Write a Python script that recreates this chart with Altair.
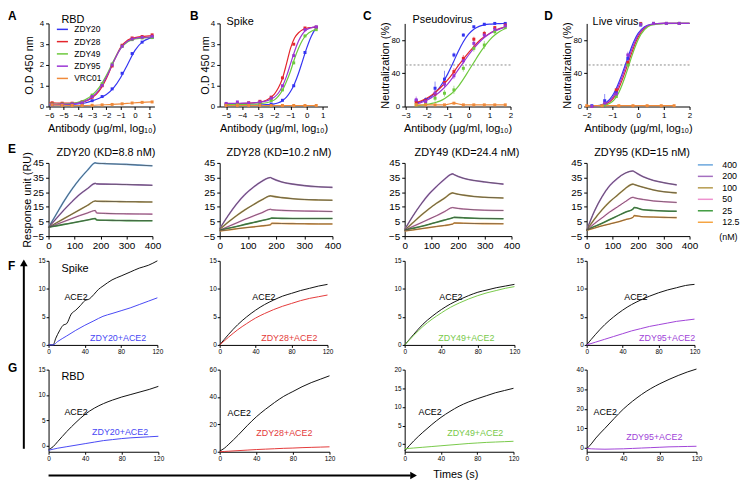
import altair as alt
import pandas as pd

FONT = "Liberation Sans"
ONE = pd.DataFrame({"k": [0]})

AB_NAMES = ["ZDY20", "ZDY28", "ZDY49", "ZDY95", "VRC01"]
AB_COLORS = ["#3434f2", "#e4252b", "#6dc93d", "#9a34d4", "#f08a3a"]

# ---------------- A: RBD ELISA ----------------
A_X = [-6, -5.5, -5, -4.5, -4, -3.5, -3, -2.5, -2, -1.5, -1, -0.5, 0, 0.5, 1, 1.3]
A_ZDY20 = [0.08, 0.08, 0.09, 0.10, 0.12, 0.17, 0.27, 0.40, 0.58, 0.90, 1.40, 2.05, 2.70, 3.10, 3.28, 3.33]
A_ZDY28 = [0.18, 0.17, 0.16, 0.16, 0.18, 0.25, 0.42, 0.75, 1.35, 2.15, 2.85, 3.20, 3.32, 3.37, 3.40, 3.42]
A_ZDY49 = [0.12, 0.12, 0.12, 0.14, 0.20, 0.32, 0.55, 0.92, 1.50, 2.20, 2.80, 3.12, 3.25, 3.30, 3.32, 3.33]
A_ZDY95 = [0.10, 0.10, 0.10, 0.12, 0.16, 0.26, 0.46, 0.82, 1.42, 2.15, 2.80, 3.15, 3.28, 3.32, 3.34, 3.35]
A_PX = [-5.8, -5.1, -4.4, -3.7, -3.0, -2.3, -1.6, -0.9, -0.2, 0.5, 1.2]
A_P20 = [0.08, 0.09, 0.10, 0.13, 0.28, 0.48, 0.85, 1.60, 2.55, 3.10, 3.32]
A_P28 = [0.18, 0.16, 0.16, 0.22, 0.45, 1.00, 1.95, 2.95, 3.30, 3.37, 3.45]
A_P49 = [0.12, 0.12, 0.13, 0.22, 0.55, 1.10, 2.05, 2.90, 3.22, 3.30, 3.32]
A_P95 = [0.10, 0.10, 0.12, 0.18, 0.48, 1.02, 2.00, 2.90, 3.25, 3.33, 3.38]
A_P01 = [0.08, 0.06, 0.05, 0.05, 0.06, 0.08, 0.10, 0.13, 0.17, 0.20, 0.22]

# ---------------- B: Spike ELISA ----------------
B_X = [-5, -4.5, -4, -3.5, -3, -2.5, -2, -1.75, -1.5, -1.25, -1, -0.75, -0.5, -0.25, 0, 0.3, 0.6]
B_ZDY20 = [0.05, 0.05, 0.05, 0.06, 0.07, 0.09, 0.13, 0.18, 0.28, 0.45, 0.72, 1.10, 1.60, 2.20, 2.80, 3.40, 3.80]
B_ZDY28 = [0.12, 0.13, 0.14, 0.16, 0.20, 0.30, 0.60, 0.90, 1.35, 2.05, 2.80, 3.30, 3.55, 3.70, 3.77, 3.80, 3.82]
B_ZDY49 = [0.10, 0.10, 0.10, 0.11, 0.13, 0.18, 0.32, 0.50, 0.78, 1.20, 1.70, 2.30, 2.80, 3.20, 3.45, 3.62, 3.72]
B_ZDY95 = [0.15, 0.15, 0.16, 0.17, 0.20, 0.27, 0.45, 0.65, 0.98, 1.45, 2.05, 2.65, 3.15, 3.50, 3.70, 3.80, 3.83]
B_PX = [-5, -4.3, -3.6, -2.9, -2.2, -1.5, -0.8, -0.1, 0.6]
B_P20 = [0.05, 0.05, 0.06, 0.07, 0.12, 0.30, 1.00, 2.60, 3.82]
B_P28 = [0.12, 0.15, 0.18, 0.25, 0.45, 1.38, 3.00, 3.78, 3.82]
B_P49 = [0.10, 0.10, 0.12, 0.15, 0.30, 0.80, 2.10, 3.40, 3.70]
B_P95 = [0.15, 0.22, 0.17, 0.22, 0.40, 1.00, 2.45, 3.70, 3.83]
B_P01 = [0.05, 0.05, 0.05, 0.05, 0.05, 0.05, 0.05, 0.05, 0.05]

# ---------------- C: Pseudovirus ----------------
C_X = [-2.5, -2.25, -2, -1.75, -1.5, -1.25, -1, -0.75, -0.5, -0.25, 0, 0.25, 0.5, 0.75, 1, 1.25, 1.5, 1.75]
C_ZDY20 = [4, 6, 9, 13, 19, 28, 39, 52, 66, 78, 87, 93, 96.5, 98.3, 99.2, 99.6, 99.8, 100]
C_ZDY28 = [5, 7, 10, 14, 19, 25, 32, 40, 49, 57, 65, 72, 79, 84, 88, 91.5, 94, 96]
C_ZDY49 = [1, 1.5, 2.5, 3.7, 5.5, 8, 12, 17, 24, 33, 43, 53, 63, 72, 80, 86, 90.5, 94]
C_ZDY95 = [3, 5, 7.5, 11, 15, 20.5, 27, 35, 44, 53, 62, 70, 77, 83, 87.5, 91, 93.5, 95.5]
C_PX = [-2.5, -2.05, -1.6, -1.15, -0.7, -0.25, 0.25, 0.75, 1.25, 1.75]
C_P20 = [7, 8, 22, 33, 62, 86, 96, 99, 100, 100]
C_P28 = [5, 7, 15, 29, 42, 58, 81, 88, 95, 98]
C_P49 = [2, 4, 10, 16, 20, 46, 70, 74, 90, 95]
C_P95 = [8, 6, 16, 27, 37, 55, 76, 86, 93, 97]
C_P01 = [2, 2, 2, 2, 4, 2, 2, 2, 2, 2]
C_E20 = [3, 3, 8, 10, 3, 2, 1, 1, 0, 0]
C_E28 = [2, 3, 4, 4, 4, 4, 3, 3, 2, 2]
C_E49 = [1, 2, 4, 4, 5, 4, 4, 5, 3, 2]
C_E95 = [4, 3, 5, 5, 4, 4, 4, 3, 2, 2]

# ---------------- D: Live virus ----------------
D_X = [-1.8, -1.5, -1.25, -1, -0.875, -0.75, -0.625, -0.5, -0.375, -0.25, -0.125, 0, 0.25, 0.5, 1, 2]
D_ZDY20 = [0.3, 1.5, 4.5, 13, 20, 29, 39, 50, 61, 72, 81, 88, 96, 99, 100, 100]
D_ZDY28 = [0.1, 0.7, 2.7, 8.5, 14, 22, 31.5, 42, 53.5, 64.5, 75, 83.5, 94, 98.4, 100, 100]
D_ZDY49 = [0.05, 0.4, 1.8, 6, 10.5, 17, 26, 36.5, 48, 60, 71, 80.5, 92.5, 98, 99.8, 100]
D_ZDY95 = [0.2, 1, 3.5, 10.5, 17, 25.5, 35.5, 46.5, 57.5, 68.5, 78, 86, 95, 98.7, 100, 100]
D_PX = [-1.8, -1.3, -0.85, -0.4, 0.1, 0.6, 1.1, 1.6]
D_P20 = [1, 7, 17, 58, 98, 100, 100, 100]
D_P28 = [0, 3, 20, 53, 100, 100, 100, 100]
D_P49 = [0, 2, 12, 50, 99, 100, 100, 100]
D_P95 = [0, 4, 15, 62, 99, 100, 100, 100]
D_E20 = [0, 8, 3, 6, 1, 0, 0, 0]
D_E95 = [0, 2, 3, 4, 1, 0, 0, 0]
D_P01X = [-2, -1.4, -0.75, -0.2, 0.35, 0.9, 1.4]
D_P01 = [1, 1, 1, 1, 1, 1, 1]

# ---------------- E: SPR sensorgrams ----------------
E_CONC = ["400", "200", "100", "50", "25", "12.5"]
E_COLORS = ["#6aa6dd", "#a46fc0", "#b59a4c", "#ee92cf", "#3e9b3e", "#f5a442"]
E_TITLES = ["ZDY20 (KD=8.8 nM)", "ZDY28 (KD=10.2 nM)", "ZDY49 (KD=24.4 nM)", "ZDY95 (KD=15 nM)"]
E1_T = [0, 30, 60, 90, 120, 150, 180, 185, 220, 260, 300, 350, 400]
E1 = {
    "400": [1, 10, 19, 27, 34, 40, 45, 44.8, 44.5, 44.2, 44, 43.5, 43],
    "200": [1, 7, 13, 18.5, 23.5, 27.5, 31, 30.7, 30.5, 30.4, 30.2, 30, 29.7],
    "100": [1, 4, 7, 10, 13, 16, 19, 18.8, 18.7, 18.6, 18.5, 18.4, 18.3],
    "50": [1, 3, 5, 7, 9, 10.8, 12.5, 10.8, 10.5, 10.3, 10.2, 10.1, 10],
    "25": [1, 2, 3, 4, 5, 6, 7, 6, 5.8, 5.7, 5.6, 5.5, 5.5],
}
E2_T = [0, 30, 60, 90, 120, 150, 180, 185, 220, 260, 300, 350, 400]
E2 = {
    "200": [0, 9, 17, 23.5, 28.5, 32.5, 35, 34.5, 32, 30.5, 29.5, 28.7, 28.3],
    "100": [-0.5, 4.5, 9, 13, 16.5, 19.8, 22.5, 22.3, 21.3, 20.5, 20, 19.7, 19.5],
    "50": [-1, 1.5, 4, 6.5, 8.8, 11, 13.3, 13, 12.6, 12.3, 12.1, 12, 11.8],
    "25": [-1, 0.3, 1.6, 3, 4.3, 5.6, 7, 7.3, 7.1, 7, 7, 7, 7],
    "12.5": [-1.5, -0.8, 0, 0.7, 1.3, 2, 2.7, 3.8, 3.6, 3.5, 3.4, 3.3, 3.3],
}
E3_T = [0, 30, 60, 90, 120, 150, 180, 185, 220, 260, 300, 370]
E3 = {
    "200": [-0.5, 8.5, 16.5, 23.5, 29, 34, 37.5, 37, 34.5, 33, 32, 30.5],
    "100": [-1, 4, 9, 13.5, 17.5, 21, 24.5, 24.2, 23, 22, 21.5, 21],
    "50": [-1, 1.5, 4, 6.5, 9, 11.8, 14.5, 14.3, 13.5, 13, 12.7, 12.5],
    "25": [-1, 0.3, 1.5, 3, 4.5, 6, 7.5, 7.8, 7.5, 7.2, 7, 6.9],
    "12.5": [-1.5, -0.8, 0, 0.8, 1.6, 2.3, 3.2, 4, 3.8, 3.6, 3.5, 3.4],
}
E4_T = [0, 30, 60, 90, 120, 150, 180, 185, 220, 260, 300, 350]
E4 = {
    "200": [-1, 12, 22, 29.5, 34.5, 38, 39.5, 39, 35.5, 33, 31.5, 30],
    "100": [-1, 6.5, 13, 18.5, 23, 27.5, 30.5, 30.2, 28.3, 26.5, 25.3, 24.5],
    "50": [-1, 3.5, 7.5, 11.5, 15, 18.5, 21.5, 21.2, 20, 19, 18.5, 18],
    "25": [-1, 1.5, 3.8, 6.3, 8.8, 11.3, 13.5, 14.5, 13, 12.5, 12.2, 12],
    "12.5": [-1, 0.5, 2, 3.3, 4.6, 6.2, 7.8, 9, 8.2, 8, 7.8, 7.6],
}

# ---------------- F / G: competition ----------------
K_T = [0, 10, 20, 30, 40, 50, 60, 70, 80, 90, 100, 110, 120]
F1_ACE2_T = [0, 5, 8, 12, 16, 20, 25, 30, 35, 40, 45, 50, 55, 60, 70, 80, 90, 100, 110, 120]
F1_ACE2 = [0, 0, 1.2, 2.5, 3.5, 3.8, 5.5, 6.2, 7, 7.9, 8.2, 9, 9.9, 10.5, 11.6, 12.3, 13, 13.7, 14.2, 15]
F1_AB_T = [0, 5, 10, 20, 30, 40, 50, 60, 70, 80, 90, 100, 110, 120]
F1_AB = [0, 0, 0.6, 1.6, 2.6, 3.5, 4.3, 5.1, 5.6, 6.1, 6.6, 7.2, 7.8, 8.4]
F2_ACE2 = [0, 1.9, 3.6, 5.0, 6.2, 7.2, 8.0, 8.7, 9.2, 9.7, 10.1, 10.5, 10.8]
F2_AB = [0, 1.4, 2.7, 3.8, 4.8, 5.6, 6.3, 6.9, 7.4, 7.9, 8.3, 8.6, 8.9]
F3_ACE2 = [0, 1.9, 3.7, 5.1, 6.3, 7.3, 8.1, 8.8, 9.4, 9.8, 10.2, 10.5, 10.8]
F3_AB = [0, 1.7, 3.3, 4.6, 5.7, 6.7, 7.5, 8.2, 8.8, 9.3, 9.7, 10.1, 10.4]
F4_ACE2 = [0, 1.9, 3.6, 5.0, 6.2, 7.2, 8.0, 8.7, 9.3, 9.8, 10.2, 10.6, 10.8]
F4_AB = [0, 0.5, 1.0, 1.5, 2.0, 2.5, 2.9, 3.3, 3.6, 3.9, 4.2, 4.4, 4.6]

G_T = [0, 5, 10, 20, 30, 40, 50, 60, 70, 80, 90, 100, 110, 120]
G1_ACE2 = [-0.8, -0.2, 0.8, 2.8, 4.6, 6.2, 7.4, 8.3, 9.0, 9.6, 10.1, 10.6, 11.1, 11.7]
G1_AB = [-0.9, -0.7, -0.5, -0.2, 0.1, 0.4, 0.7, 1.0, 1.2, 1.4, 1.55, 1.65, 1.75, 1.85]
G2_ACE2 = [0.5, 2.5, 5.5, 12, 19, 25.5, 31, 36, 40.5, 44, 47.5, 50.5, 53, 55.5]
G2_AB = [0, 0.2, 0.4, 0.8, 1.2, 1.6, 1.9, 2.2, 2.5, 2.7, 3.0, 3.2, 3.4, 3.6]
G3_ACE2 = [-1.8, -0.4, 0.9, 3.2, 5.3, 7.2, 8.8, 10.2, 11.3, 12.2, 13.0, 13.8, 14.4, 15.0]
G3_AB = [-1.2, -1.1, -1.0, -0.8, -0.6, -0.4, -0.2, 0, 0.2, 0.35, 0.5, 0.6, 0.7, 0.8]
G4_ACE2 = [-0.5, 2, 5, 10, 15, 19.8, 23.8, 27.3, 30.3, 32.8, 35, 37, 38.8, 40.3]
G4_AB = [-0.3, -0.5, -0.6, -0.7, -0.6, -0.5, -0.3, -0.1, 0.1, 0.3, 0.5, 0.6, 0.7, 0.8]

K_COLORS = {"ACE2": "#111111", "ZDY20": "#4848f4", "ZDY28": "#e43a3a", "ZDY49": "#78c94a", "ZDY95": "#a043d8"}


def long_df(d):
    rows = []
    for name, vals in d.items():
        xs, ys = vals[0], vals[1]
        es = vals[2] if len(vals) > 2 else [0] * len(xs)
        for x, y, e in zip(xs, ys, es):
            rows.append({"x": x, "y": y, "s": name, "lo": y - e, "hi": y + e})
    return pd.DataFrame(rows)


def label(text, x, y, size=11, color="black", weight="normal", baseline="middle", align="left"):
    return alt.Chart(ONE).mark_text(
        text=text, align=align, baseline=baseline, fontSize=size, font=FONT,
        color=color, fontWeight=weight
    ).encode(x=alt.value(x), y=alt.value(y))


def spacer(w, h):
    return alt.Chart(ONE).mark_point(opacity=0).encode(
        x=alt.value(0), y=alt.value(0)).properties(width=w, height=h)


def dose_panel(curves, points, errs, xdom, xticks, ydom, yticks, ytitle, ytp, width,
               texts, legend=None, dotted=False):
    X = alt.X("x:Q", scale=alt.Scale(domain=xdom, nice=False, zero=False),
              axis=alt.Axis(values=xticks, title="Antibody (μg/ml, log₁₀)", titleFontSize=11,
                            labelFontSize=8, titlePadding=3, format="d"))
    Y = alt.Y("y:Q", scale=alt.Scale(domain=ydom, nice=False, zero=False),
              axis=alt.Axis(values=yticks, title=ytitle, titleFontSize=11, titlePadding=ytp,
                            labelFontSize=8, format="d"))
    col = alt.Color("s:N", scale=alt.Scale(domain=AB_NAMES, range=AB_COLORS), legend=legend)
    layers = []
    if dotted:
        layers.append(alt.Chart(ONE).mark_rule(color="#8a8a8a", strokeDash=[2, 2], strokeWidth=1)
                      .encode(y=alt.datum(50)))
    if errs:
        layers.append(alt.Chart(long_df(errs)).mark_rule(strokeWidth=0.8, opacity=0.7)
                      .encode(x=X, y=alt.Y("lo:Q", scale=alt.Scale(domain=ydom, nice=False, zero=False)),
                              y2="hi:Q", color=col))
    layers.append(alt.Chart(long_df(curves)).mark_line(strokeWidth=1.2, interpolate="monotone")
                  .encode(x=X, y=Y, color=col))
    layers.append(alt.Chart(long_df(points)).mark_point(shape="square", filled=True, size=9, opacity=1)
                  .encode(x=X, y=Y, color=col))
    layers += texts
    return alt.layer(*layers).properties(width=width, height=84)


def spr_panel(t, curves, title, title_x, width, ytitle=None, legend=None, texts=()):
    df = long_df({k: (t, v) for k, v in curves.items()})
    X = alt.X("x:Q", scale=alt.Scale(domain=[0, 400], nice=False),
              axis=alt.Axis(values=[0, 100, 200, 300, 400], title=None, labelFontSize=10, format="d"))
    Y = alt.Y("y:Q", scale=alt.Scale(domain=[-5, 45], nice=False, zero=False),
              axis=alt.Axis(values=[-5, 5, 15, 25, 35, 45], title=ytitle, titleFontSize=11,
                            titlePadding=0, labelFontSize=10, format="d"))
    col = alt.Color("s:N", scale=alt.Scale(domain=E_CONC, range=E_COLORS), legend=legend)
    colored = alt.Chart(df).mark_line(strokeWidth=1.6, interpolate="monotone").encode(x=X, y=Y, color=col)
    fit = alt.Chart(df).mark_line(strokeWidth=0.7, color="#4a4a4a", interpolate="monotone").encode(
        x=X, y=Y, detail="s:N")
    ttl = label(title, title_x, -10, size=11, align="center")
    return alt.layer(colored, fit, ttl, *texts).properties(width=width, height=74)


def kin_panel(curves, ydom, yticks, width, height, texts=()):
    names = list(curves.keys())
    df = long_df(curves)
    X = alt.X("x:Q", scale=alt.Scale(domain=[0, 120], nice=False),
              axis=alt.Axis(values=[0, 40, 80, 120], title=None, labelFontSize=6.5, tickSize=2.5,
                            labelPadding=1, format="d"))
    Y = alt.Y("y:Q", scale=alt.Scale(domain=ydom, nice=False, zero=False),
              axis=alt.Axis(values=yticks, title=None, labelFontSize=6.5, tickSize=2.5,
                            labelPadding=1, format="d"))
    col = alt.Color("s:N", scale=alt.Scale(domain=names, range=[K_COLORS[n] for n in names]), legend=None)
    lines = alt.Chart(df).mark_line(strokeWidth=1.0, interpolate="monotone").encode(x=X, y=Y, color=col)
    return alt.layer(lines, *texts).properties(width=width, height=height)


legA = alt.Legend(orient="none", legendX=9, legendY=1, title=None, symbolType="M-1.4,0H1.4",
                  symbolStrokeWidth=1.5, symbolSize=64, labelFontSize=8.5, labelFont=FONT,
                  labelColor="black", labelOffset=7, rowPadding=2.4, padding=0)

pA = dose_panel(
    {"ZDY20": (A_X, A_ZDY20), "ZDY28": (A_X, A_ZDY28), "ZDY49": (A_X, A_ZDY49),
     "ZDY95": (A_X, A_ZDY95), "VRC01": (A_PX, A_P01)},
    {"ZDY20": (A_PX, A_P20), "ZDY28": (A_PX, A_P28), "ZDY49": (A_PX, A_P49),
     "ZDY95": (A_PX, A_P95), "VRC01": (A_PX, A_P01)},
    None, [-6.05, 1.36], [-6, -5, -4, -3, -2, -1, 0, 1], [0, 4], [0, 1, 2, 3, 4],
    "O.D 450 nm", 5, 107,
    [label("A", -41, -12, size=12, weight="bold", baseline="top"), label("RBD", 13, -3)],
    legend=legA)

pB = dose_panel(
    {"ZDY20": (B_X, B_ZDY20), "ZDY28": (B_X, B_ZDY28), "ZDY49": (B_X, B_ZDY49),
     "ZDY95": (B_X, B_ZDY95), "VRC01": (B_PX, B_P01)},
    {"ZDY20": (B_PX, B_P20), "ZDY28": (B_PX, B_P28), "ZDY49": (B_PX, B_P49),
     "ZDY95": (B_PX, B_P95), "VRC01": (B_PX, B_P01)},
    None, [-5.4, 1.3], [-5, -4, -3, -2, -1, 0, 1], [0, 4], [0, 1, 2, 3, 4],
    "O.D 450 nm", 0, 109,
    [label("B", -30, -12, size=12, weight="bold", baseline="top"), label("Spike", 7, -1)])

pC = dose_panel(
    {"ZDY20": (C_X, C_ZDY20), "ZDY28": (C_X, C_ZDY28), "ZDY49": (C_X, C_ZDY49),
     "ZDY95": (C_X, C_ZDY95), "VRC01": (C_PX, C_P01)},
    {"ZDY20": (C_PX, C_P20), "ZDY28": (C_PX, C_P28), "ZDY49": (C_PX, C_P49),
     "ZDY95": (C_PX, C_P95), "VRC01": (C_PX, C_P01)},
    {"ZDY20": (C_PX, C_P20, C_E20), "ZDY28": (C_PX, C_P28, C_E28), "ZDY49": (C_PX, C_P49, C_E49),
     "ZDY95": (C_PX, C_P95, C_E95)},
    [-3.05, 2], [-3, -2, -1, 0, 1, 2], [0, 100], [0, 20, 40, 60, 80, 100],
    "Neutralization (%)", 0, 107,
    [label("C", -42, -12, size=12, weight="bold", baseline="top"), label("Pseudovirus", 8, -3)],
    dotted=True)

pD = dose_panel(
    {"ZDY20": (D_X, D_ZDY20), "ZDY28": (D_X, D_ZDY28), "ZDY49": (D_X, D_ZDY49),
     "ZDY95": (D_X, D_ZDY95), "VRC01": (D_P01X, D_P01)},
    {"ZDY20": (D_PX, D_P20), "ZDY28": (D_PX, D_P28), "ZDY49": (D_PX, D_P49),
     "ZDY95": (D_PX, D_P95), "VRC01": (D_P01X, D_P01)},
    {"ZDY20": (D_PX, D_P20, D_E20), "ZDY95": (D_PX, D_P95, D_E95)},
    [-2, 2], [-2, -1, 0, 1, 2], [0, 100], [0, 20, 40, 60, 80, 100],
    "Neutralization (%)", 0, 104,
    [label("D", -43, -12, size=12, weight="bold", baseline="top"), label("Live virus", 6, -1)],
    dotted=True)

legE = alt.Legend(orient="none", legendX=115, legendY=-3, title=None, symbolType="M-1.9,0H1.9",
                  symbolStrokeWidth=1.5, symbolSize=64, labelFontSize=9, labelFont=FONT,
                  labelColor="black", labelOffset=12, rowPadding=1.6, padding=0)

pE1 = spr_panel(E1_T, E1, E_TITLES[0], 58, 105, ytitle="Response unit (RU)",
                texts=[label("E", -41, -19, size=12, weight="bold", baseline="top")])
pE2 = spr_panel(E2_T, E2, E_TITLES[1], 60, 114)
pE3 = spr_panel(E3_T, E3, E_TITLES[2], 63, 108)
pE4 = spr_panel(E4_T, E4, E_TITLES[3], 56, 104, legend=legE,
                texts=[label("(nM)", 134, 75, size=9)])

arrowF = [
    alt.Chart(ONE).mark_rule(color="black", strokeWidth=2).encode(
        x=alt.value(-25), y=alt.value(5), y2=alt.value(190)),
    alt.Chart(ONE).mark_point(shape="triangle-up", filled=True, color="black", size=60, opacity=1).encode(
        x=alt.value(-25), y=alt.value(2)),
]
arrowG = [
    alt.Chart(ONE).mark_rule(color="black", strokeWidth=2).encode(
        x=alt.value(0), x2=alt.value(366), y=alt.value(107)),
    alt.Chart(ONE).mark_point(shape="triangle-right", filled=True, color="black", size=60, opacity=1).encode(
        x=alt.value(369), y=alt.value(107)),
    label("Times (s)", 389, 107, size=11),
]

pF1 = kin_panel({"ACE2": (F1_ACE2_T, F1_ACE2), "ZDY20": (F1_AB_T, F1_AB)}, [0, 15], [0, 5, 10, 15], 110, 85,
                [label("F", -41, 0, size=12, weight="bold", baseline="top"), label("Spike", 13, 8),
                 label("ACE2", 16, 37, size=9), label("ZDY20+ACE2", 42, 78, size=9, color=K_COLORS["ZDY20"])]
                + arrowF)
pF2 = kin_panel({"ACE2": (K_T, F2_ACE2), "ZDY28": (K_T, F2_AB)}, [0, 15], [0, 5, 10, 15], 109, 85,
                [label("ACE2", 33, 37, size=9), label("ZDY28+ACE2", 42, 78, size=9, color=K_COLORS["ZDY28"])])
pF3 = kin_panel({"ACE2": (K_T, F3_ACE2), "ZDY49": (K_T, F3_AB)}, [0, 15], [0, 5, 10, 15], 111, 85,
                [label("ACE2", 35, 37, size=9), label("ZDY49+ACE2", 34, 78, size=9, color=K_COLORS["ZDY49"])])
pF4 = kin_panel({"ACE2": (K_T, F4_ACE2), "ZDY95": (K_T, F4_AB)}, [0, 15], [0, 5, 10, 15], 109, 85,
                [label("ACE2", 38, 37, size=9), label("ZDY95+ACE2", 53, 78, size=9, color=K_COLORS["ZDY95"])])

pG1 = kin_panel({"ACE2": (G_T, G1_ACE2), "ZDY20": (G_T, G1_AB)}, [-1.2, 15], [0, 5, 10, 15], 111, 83,
                [label("G", -41, -7, size=12, weight="bold", baseline="top"), label("RBD", 13, 7),
                 label("ACE2", 16, 43, size=9), label("ZDY20+ACE2", 44, 63, size=9, color=K_COLORS["ZDY20"])]
                + arrowG)
pG2 = kin_panel({"ACE2": (G_T, G2_ACE2), "ZDY28": (G_T, G2_AB)}, [0, 60], [0, 20, 40, 60], 111, 83,
                [label("ACE2", 8, 44, size=9), label("ZDY28+ACE2", 37, 64, size=9, color=K_COLORS["ZDY28"])])
pG3 = kin_panel({"ACE2": (G_T, G3_ACE2), "ZDY49": (G_T, G3_AB)}, [-2, 20], [0, 5, 10, 15, 20], 110, 83,
                [label("ACE2", 14, 43, size=9), label("ZDY49+ACE2", 43, 64, size=9, color=K_COLORS["ZDY49"])])
pG4 = kin_panel({"ACE2": (G_T, G4_ACE2), "ZDY95": (G_T, G4_AB)}, [-2, 40], [0, 10, 20, 30, 40], 111, 83,
                [label("ACE2", 7, 43, size=9), label("ZDY95+ACE2", 40, 68, size=9, color=K_COLORS["ZDY95"])])

# grid: 7 columns (panel, gap, panel, gap, panel, gap, panel)
GAPS = [62, 73, 73]


def grid_row(p1, p2, p3, p4):
    return [p1, spacer(GAPS[0], 1), p2, spacer(GAPS[1], 1), p3, spacer(GAPS[2], 1), p4]


cells = (grid_row(pA, pB, pC, pD)
         + [spacer(1, 7) for _ in range(7)]
         + grid_row(pE1, pE2, pE3, pE4)
         + grid_row(pF1, pF2, pF3, pF4)
         + grid_row(pG1, pG2, pG3, pG4))

chart = alt.concat(*cells, columns=7, spacing={"row": 25, "column": 0}, bounds="flush").resolve_scale(
    color="independent"
).properties(
    padding={"left": 0, "top": 0, "right": 0, "bottom": 0}
).configure_view(stroke=None).configure_axis(
    domainColor="black", tickColor="black", labelColor="black", titleColor="black",
    grid=False, labelFont=FONT, titleFont=FONT, titleFontWeight="normal",
    tickSize=3, domainWidth=1, tickWidth=1, labelPadding=2, labelFlush=False, labelOverlap=False
)

chart.save("out.html", embed_options={"renderer": "svg", "actions": False})
